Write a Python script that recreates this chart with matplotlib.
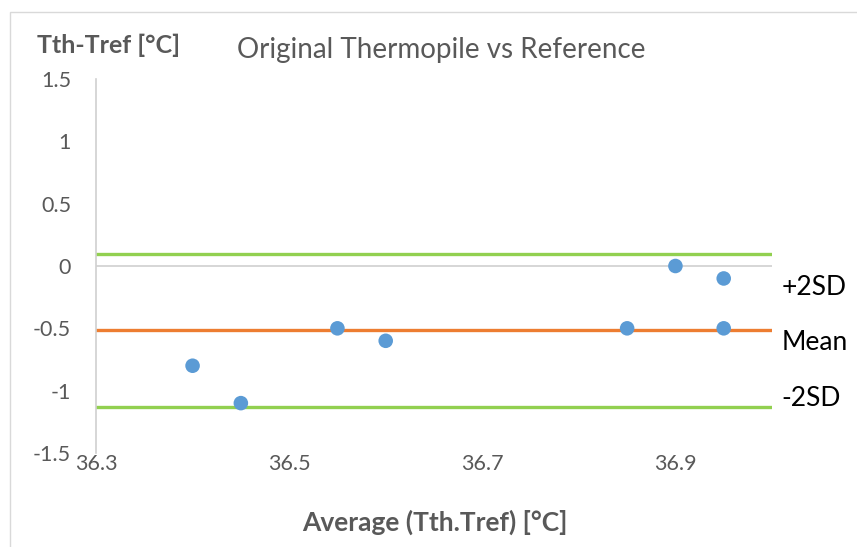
import matplotlib.pyplot as plt
from matplotlib.patches import Rectangle

# readings
avg_temp = [36.40, 36.45, 36.55, 36.60, 36.85, 36.90, 36.95, 36.95]
diff_temp = [-0.8, -1.1, -0.5, -0.6, -0.5, 0.0, -0.1, -0.5]

mean_diff = -0.51
upper_sd = 0.10
lower_sd = -1.13

x_ticks = [36.3, 36.5, 36.7, 36.9]
y_ticks = [-1.5, -1, -0.5, 0, 0.5, 1, 1.5]

# side labels (text, y position)
side_labels = [("+2SD", -0.17), ("Mean", -0.61), ("-2SD", -1.06)]

plt.rcParams['font.family'] = ['Lato', 'DejaVu Sans']

W, H = 857, 547
fig = plt.figure(figsize=(W / 100, H / 100), dpi=100)
fig.patches.append(Rectangle((10 / W, -0.1), 1.2, 1 - 12 / H + 0.1,
                             transform=fig.transFigure, fill=False,
                             edgecolor='#d9d9d9', linewidth=1))

ax = fig.add_axes([96 / W, 1 - 453 / H, (772 - 96) / W, (453 - 79) / H])

ax.axhline(0, color='#d0d0d0', linewidth=1.2, zorder=1)
ax.axhline(upper_sd, color='#92D050', linewidth=2.4, zorder=2)
ax.axhline(mean_diff, color='#ED7D31', linewidth=2.4, zorder=2)
ax.axhline(lower_sd, color='#92D050', linewidth=2.4, zorder=2)

ax.scatter(avg_temp, diff_temp, s=110, color='#5B9BD5', zorder=3,
           edgecolors='none')

ax.set_xlim(36.3, 37.0)
ax.set_ylim(-1.5, 1.5)
ax.set_xticks(x_ticks)
ax.set_xticklabels([f"{t:.1f}" for t in x_ticks])
ax.set_yticks(y_ticks)
ax.set_yticklabels([f"{t:g}" for t in y_ticks])

for s in ['top', 'right', 'bottom']:
    ax.spines[s].set_visible(False)
ax.spines['left'].set_color('#d0d0d0')
ax.spines['left'].set_linewidth(1.2)
ax.tick_params(length=0, labelsize=15.5, colors='#595959')
ax.tick_params(axis='x', pad=1)
ax.tick_params(axis='y', pad=18)

for txt, yv in side_labels:
    ax.text(37.01, yv, txt, fontsize=19, color='black', va='center',
            ha='left', clip_on=False)

fig.text(441 / W, 1 - 50 / H, "Original Thermopile vs Reference",
         fontsize=20, color='#595959', ha='center', va='center')
fig.text(37 / W, 1 - 45 / H, "Tth-Tref [°C]", fontsize=18,
         fontweight='bold', color='#595959', ha='left', va='center')
fig.text(435 / W, 1 - 522 / H, "Average (Tth.Tref) [°C]", fontsize=19,
         fontweight='bold', color='#595959', ha='center', va='center')

fig.savefig("out.png", dpi=100)
